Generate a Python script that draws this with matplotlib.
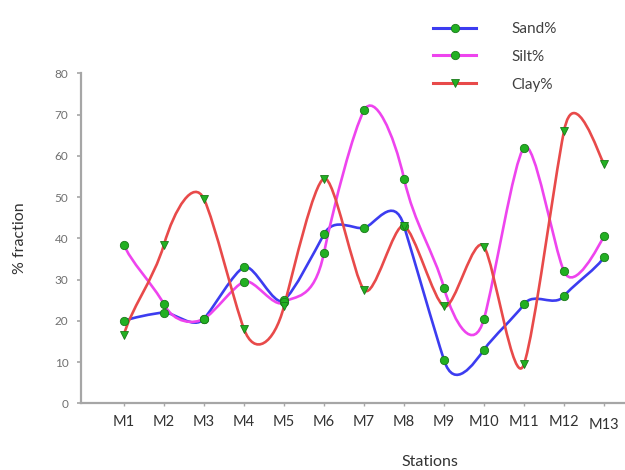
import matplotlib
matplotlib.use("Agg")
import matplotlib.pyplot as plt
from matplotlib.path import Path
from matplotlib.patches import PathPatch
from matplotlib.lines import Line2D
from matplotlib.transforms import ScaledTranslation

stations = ["M1", "M2", "M3", "M4", "M5", "M6", "M7", "M8", "M9", "M10", "M11", "M12", "M13"]
sand = [20, 22, 20.5, 33, 25, 41, 42.5, 43, 10.5, 13, 24, 26, 35.5]
silt = [38.5, 24, 20.5, 29.5, 24.5, 36.5, 71, 54.5, 28, 20.5, 62, 32, 40.5]
clay = [16.5, 38.5, 49.5, 18, 23.5, 54.5, 27.5, 43, 23.5, 38, 9.5, 66, 58]
yticks = [0, 10, 20, 30, 40, 50, 60, 70, 80]

plt.rcParams['font.family'] = ['Lato', 'DejaVu Sans']

fig = plt.figure(figsize=(6.25, 4.7), dpi=100)
ax = fig.add_axes([0.1296, 0.1419, 0.8704, 0.7021])

xs = list(range(1, len(stations) + 1))
K = 0.26  # smoothing tension of the curved lines


def smooth_path(x, y):
    n = len(x)
    verts = [(x[0], y[0])]
    codes = [Path.MOVETO]
    for i in range(n - 1):
        xp, yp = (x[i - 1], y[i - 1]) if i > 0 else (x[i], y[i])
        xn2, yn2 = (x[i + 2], y[i + 2]) if i + 2 < n else (x[i + 1], y[i + 1])
        c1 = (x[i] + (x[i + 1] - xp) * K / 2, y[i] + (y[i + 1] - yp) * K)
        c2 = (x[i + 1] - (xn2 - x[i]) * K / 2, y[i + 1] - (yn2 - y[i]) * K)
        verts += [c1, c2, (x[i + 1], y[i + 1])]
        codes += [Path.CURVE4] * 3
    return Path(verts, codes)


mfc = '#22b022'
mec = '#1a7a1a'
series = [
    ("Sand%", sand, '#3c3cf0', 'o'),
    ("Silt%", silt, '#ee44ee', 'o'),
    ("Clay%", clay, '#e84a4a', 'v'),
]
handles = []
for name, vals, col, mk in series:
    patch = PathPatch(smooth_path(xs, vals), facecolor='none', edgecolor=col,
                      lw=1.9, transform=ax.transData, zorder=2)
    ax.add_patch(patch)
for name, vals, col, mk in series:
    ax.plot(xs, vals, linestyle='none', marker=mk, markersize=6,
            markerfacecolor=mfc, markeredgecolor=mec, markeredgewidth=0.6, zorder=3)
    handles.append(Line2D([], [], color=col, lw=2.2, marker=mk, markersize=6,
                          markerfacecolor=mfc, markeredgecolor=mec, markeredgewidth=0.6))

ax.set_xlim(-0.075, 13.525)
ax.set_ylim(0, 80)
ax.set_yticks(yticks)
ax.set_xticks(xs)
ax.set_xticklabels(stations)

for s in ['top', 'right']:
    ax.spines[s].set_visible(False)
for s in ['left', 'bottom']:
    ax.spines[s].set_color('#a6a6a6')
    ax.spines[s].set_linewidth(1.6)

ax.tick_params(axis='y', length=3, width=1.2, color='#a6a6a6', pad=6,
               labelsize=8.5, labelcolor='#707070')
ax.tick_params(axis='x', length=2.5, width=1.0, color='#a6a6a6', pad=6,
               labelsize=10.5, labelcolor='#333333')
lbl = ax.get_xticklabels()[-1]
lbl.set_transform(lbl.get_transform() + ScaledTranslation(0, -3 / 100, fig.dpi_scale_trans))

ax.set_ylabel("% fraction", fontsize=11.5, color='#333333')
ax.yaxis.set_label_coords(-0.1, 0.5)
ax.set_xlabel("Stations", fontsize=11.5, color='#333333')
ax.xaxis.set_label_coords(0.641, -0.158)

fig.legend(handles=handles, labels=[s[0] for s in series], loc='upper left',
           bbox_to_anchor=(0.693, 0.953), frameon=False, fontsize=11,
           handlelength=2.8, handletextpad=2.3, labelspacing=0.9,
           borderpad=0, borderaxespad=0, labelcolor='#404040')

fig.savefig("out.png", dpi=100)
